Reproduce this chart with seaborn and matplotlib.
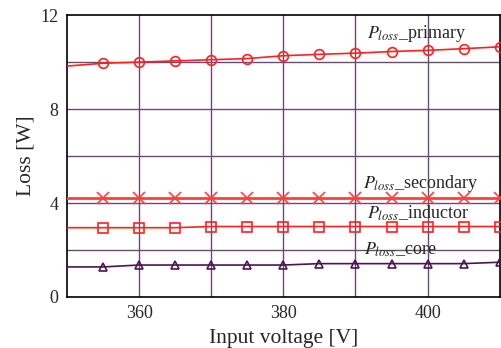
import matplotlib
matplotlib.use("Agg")
import matplotlib.pyplot as plt
import seaborn as sns
import pandas as pd

voltage = [350, 355, 360, 365, 370, 375, 380, 385, 390, 395, 400, 405, 410]
p_primary = [9.83, 9.95, 10.0, 10.05, 10.1, 10.15, 10.27, 10.33, 10.38, 10.45, 10.5, 10.57, 10.65]
p_secondary = [4.22, 4.22, 4.22, 4.22, 4.22, 4.22, 4.22, 4.22, 4.22, 4.22, 4.22, 4.22, 4.22]
p_inductor = [2.95, 2.95, 2.95, 2.95, 3.0, 3.0, 3.0, 3.0, 3.0, 3.0, 3.0, 3.0, 3.0]
p_core = [1.28, 1.28, 1.36, 1.36, 1.36, 1.36, 1.36, 1.42, 1.42, 1.42, 1.42, 1.42, 1.48]

labels = [r"$P_{loss}$_primary", r"$P_{loss}$_secondary", r"$P_{loss}$_inductor", r"$P_{loss}$_core"]
label_pos = [(391.6, 11.2), (391.1, 4.85), (391.6, 3.57), (391.2, 2.0)]

sns.set_style("white")
plt.rcParams["font.family"] = ["Liberation Serif", "DejaVu Serif"]
plt.rcParams["mathtext.fontset"] = "stix"

fig = plt.figure(figsize=(5.02, 3.48), dpi=100)
ax = fig.add_axes([0.1335, 0.1466, 0.862, 0.810])

red = "#ff2020"
purple = "#4a1550"
grid = "#6a4a70"

styles = [
    (p_primary, red, "o", 1.2, 7),
    (p_secondary, "#ff4040", "x", 2.0, 8),
    (p_inductor, red, "s", 1.2, 6.5),
    (p_core, purple, "^", 1.2, 6),
]

for vals, col, mk, lw, ms in styles:
    df = pd.DataFrame({"v": voltage, "y": vals})
    sns.lineplot(data=df, x="v", y="y", ax=ax, color=col, lw=lw,
                 marker=mk, markersize=ms, markerfacecolor="none",
                 markeredgecolor=col, markeredgewidth=1.2,
                 markevery=list(range(1, len(voltage))), zorder=3)

for (lx, ly), t in zip(label_pos, labels):
    ax.text(lx, ly, t, fontsize=13, ha="left", va="center", zorder=4)

ax.set_xlim(350, 410)
ax.set_ylim(0, 12)
for yv in [2, 4, 6, 8, 10]:
    ax.axhline(yv, color=grid, lw=1, zorder=1)
for xv in [360, 370, 380, 390, 400]:
    ax.axvline(xv, color=grid, lw=1, zorder=1)
ax.set_xticks([360, 380, 400])
ax.set_yticks([0, 4, 8, 12])
ax.tick_params(length=0, labelsize=13, pad=6)
ax.set_xlabel("Input voltage [V]", fontsize=15.5, labelpad=5)
ax.set_ylabel("Loss [W]", fontsize=15.5, labelpad=4)
for s in ax.spines.values():
    s.set_color("black")
    s.set_linewidth(1.2)

fig.savefig("out.png", dpi=100)
